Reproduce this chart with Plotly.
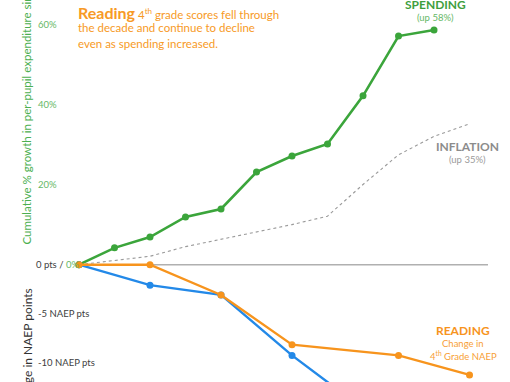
import plotly.graph_objects as go

# ---- data ----
spend_years = [2013, 2014, 2015, 2016, 2017, 2018, 2019, 2020, 2021, 2022, 2023]
spending_pct = [0, 4.2, 6.9, 11.9, 13.9, 23.1, 27.1, 30.1, 42.1, 57.0, 58.5]

infl_years = [2013, 2014, 2015, 2016, 2017, 2018, 2019, 2020, 2021, 2022, 2023, 2024]
inflation_pct = [0, 1.0, 2.1, 4.5, 6.3, 8.1, 10.0, 12.1, 20.0, 27.4, 32.0, 35.1]

naep_years = [2013, 2015, 2017, 2019, 2022, 2024]
reading_pts = [0, 0, -3.1, -8.2, -9.3, -11.3]

blue_years = [2013, 2015, 2017, 2019, 2022]
blue_pts = [0, -2.1, -3.1, -9.3, -17.5]

pct_ticks = [60, 40, 20]
pct_tick_labels = ["60%", "40%", "20%"]
pts_ticks = [-5, -10]
pts_tick_labels = ["-5 NAEP pts", "-10 NAEP pts"]

GREEN = "#3BA53B"
GREEN_LT = "#66B866"
ORANGE = "#F7941D"
BLUE = "#2389E8"
GRAY = "#8C8C8C"
DARK = "#404040"
FONT = "Lato"

fig = go.Figure()

# zero baseline
fig.add_shape(type="line", xref="x", yref="y", x0=spend_years[0], x1=2024.52,
              y0=0, y1=0, line=dict(color="#B0B0B0", width=1.5), layer="below")

fig.add_trace(go.Scatter(x=infl_years, y=inflation_pct, mode="lines",
                         line=dict(color="#9A9A9A", width=1.1, dash="dot"),
                         yaxis="y", hoverinfo="skip"))
fig.add_trace(go.Scatter(x=spend_years, y=spending_pct, mode="lines+markers",
                         line=dict(color=GREEN, width=2.6),
                         marker=dict(size=7, color=GREEN),
                         yaxis="y", hoverinfo="skip"))
fig.add_trace(go.Scatter(x=blue_years, y=blue_pts, mode="lines+markers",
                         line=dict(color=BLUE, width=2.4),
                         marker=dict(size=7, color=BLUE),
                         yaxis="y2", hoverinfo="skip"))
fig.add_trace(go.Scatter(x=naep_years, y=reading_pts, mode="lines+markers",
                         line=dict(color=ORANGE, width=2.4),
                         marker=dict(size=7, color=ORANGE),
                         yaxis="y2", hoverinfo="skip"))

W, H = 510, 382
def px(xp):
    return xp / W
def py(yp):
    return 1 - yp / H

ann = []
# tick labels
for v, t in zip(pct_ticks, pct_tick_labels):
    ann.append(dict(x=px(36), xref="paper", y=v, yref="y", text=t, showarrow=False,
                    xanchor="left", yanchor="middle",
                    font=dict(family=FONT, size=9.5, color=GREEN_LT)))
ann.append(dict(x=px(34), xref="paper", y=0, yref="y",
                text="0 pts / <span style='color:%s'>0%%</span>" % GREEN_LT,
                showarrow=False, xanchor="left", yanchor="middle",
                font=dict(family=FONT, size=9.5, color=DARK)))
for v, t in zip(pts_ticks, pts_tick_labels):
    ann.append(dict(x=px(36), xref="paper", y=v, yref="y2", text=t, showarrow=False,
                    xanchor="left", yanchor="middle",
                    font=dict(family=FONT, size=9.5, color=DARK)))

# axis titles
ann.append(dict(x=px(26), xref="paper", y=py(247), yref="paper",
                text="Cumulative % growth in per-pupil expenditure since 2013",
                textangle=-90, showarrow=False, xanchor="center", yanchor="bottom",
                font=dict(family=FONT, size=11.5, color="#4CAF50")))
ann.append(dict(x=px(26.5), xref="paper", y=py(287), yref="paper",
                text="Change in NAEP points",
                textangle=-90, showarrow=False, xanchor="center", yanchor="top",
                font=dict(family=FONT, size=12, color="#333333")))

# headline
TITLE_OR = "#F79A26"
ann.append(dict(x=px(76), xref="paper", y=py(12), yref="paper",
                text="<b><span style='font-size:16px'>Reading</span></b> 4<sup>th</sup> grade scores fell through",
                showarrow=False, xanchor="left", yanchor="middle",
                font=dict(family=FONT, size=11.5, color=TITLE_OR)))
ann.append(dict(x=px(76), xref="paper", y=py(28), yref="paper",
                text="the decade and continue to decline",
                showarrow=False, xanchor="left", yanchor="middle",
                font=dict(family=FONT, size=11.5, color=TITLE_OR)))
ann.append(dict(x=px(76), xref="paper", y=py(43), yref="paper",
                text="even as spending increased.",
                showarrow=False, xanchor="left", yanchor="middle",
                font=dict(family=FONT, size=11.5, color=TITLE_OR)))

# series labels
def lab(xc, yc, text, size, color, bold=False):
    t = "<b>%s</b>" % text if bold else text
    ann.append(dict(x=px(xc), xref="paper", y=py(yc), yref="paper", text=t,
                    showarrow=False, xanchor="center", yanchor="middle",
                    font=dict(family=FONT, size=size, color=color)))

lab(435, 4, "SPENDING", 12, "#3E9E3E", True)
lab(435, 18, "(up 58%)", 9.5, GREEN_LT)
lab(467, 146, "INFLATION", 12, GRAY, True)
lab(467, 159, "(up 35%)", 9.5, "#9A9A9A")
lab(463, 330, "READING", 12, ORANGE, True)
lab(463, 343, "Change in", 9.5, "#F7A035")
lab(463, 355, "4<sup>th</sup> Grade NAEP", 9.5, "#F7A035")

fig.update_layout(
    width=W, height=H,
    margin=dict(l=0, r=0, t=0, b=0),
    paper_bgcolor="white", plot_bgcolor="white",
    showlegend=False,
    xaxis=dict(range=[2010.775, 2025.14], visible=False, fixedrange=True),
    yaxis=dict(range=[-29.25, 66.0], visible=False, fixedrange=True),
    yaxis2=dict(range=[-12.03, 27.15], visible=False, overlaying="y", fixedrange=True),
    annotations=ann,
    font=dict(family=FONT),
)

fig.write_html("out.html", config={"displayModeBar": False},
               post_script="document.body.style.margin='0';document.body.style.overflow='hidden';")
